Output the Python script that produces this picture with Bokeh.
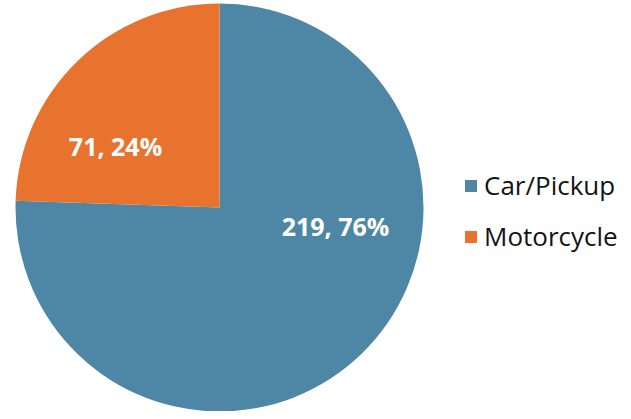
import numpy as np
from bokeh.plotting import figure
from bokeh.models import Range1d, ColumnDataSource, Legend, LegendItem
from bokeh.core.properties import value
from bokeh.embed import file_html
from bokeh.resources import INLINE

# ---- data ----
categories = ["Car/Pickup", "Motorcycle"]
counts = [219, 71]
colors = ["#4e87a6", "#e8732e"]

# ---- layout constants (pixel units, pie centre at 0,0) ----
W, H = 623, 411
CX, CY = 219, 207          # pie centre inside the frame (from left, from top)
R = 204
label_pos = [(116, -18), (-104, 62)]   # label centres relative to pie centre

total = sum(counts)
frac = np.array(counts) / total
cum = np.concatenate([[0], np.cumsum(frac)])
# Excel style: start at 12 o'clock and go clockwise
start = np.pi / 2 - cum[:-1] * 2 * np.pi
end = np.pi / 2 - cum[1:] * 2 * np.pi
labels = [f"{c}, {round(f * 100)}%" for c, f in zip(counts, frac)]

src = ColumnDataSource(dict(cat=categories, val=counts, start=start, end=end,
                            color=colors, label=labels,
                            lx=[p[0] for p in label_pos], ly=[p[1] for p in label_pos]))

p = figure(width=W, height=H, output_backend="svg", toolbar_location=None,
           x_range=Range1d(-CX, W - CX), y_range=Range1d(-(H - CY), CY),
           min_border=0, background_fill_color="white", border_fill_color="white")
p.axis.visible = False
p.grid.visible = False
p.outline_line_color = None

w = p.wedge(x=0, y=0, radius=R, start_angle="start", end_angle="end",
            direction="clock", fill_color="color", line_color=None, source=src)

p.text(x="lx", y="ly", text="label", source=src, text_align="center",
       text_baseline="middle", text_color="white", text_font=value("Open Sans"),
       text_font_style="bold", text_font_size="25px")

legend = Legend(items=[LegendItem(label=categories[i], renderers=[w], index=i)
                       for i in range(len(categories))],
                location=(463, 157), orientation="vertical",
                glyph_width=15, glyph_height=15, label_standoff=6,
                label_text_font="Open Sans", label_text_font_size="26px",
                label_text_color="#141414", label_height=34, spacing=15,
                padding=0, margin=0, border_line_color=None,
                background_fill_alpha=0)
p.add_layout(legend)

open("out.html", "w").write(file_html(p, INLINE))
